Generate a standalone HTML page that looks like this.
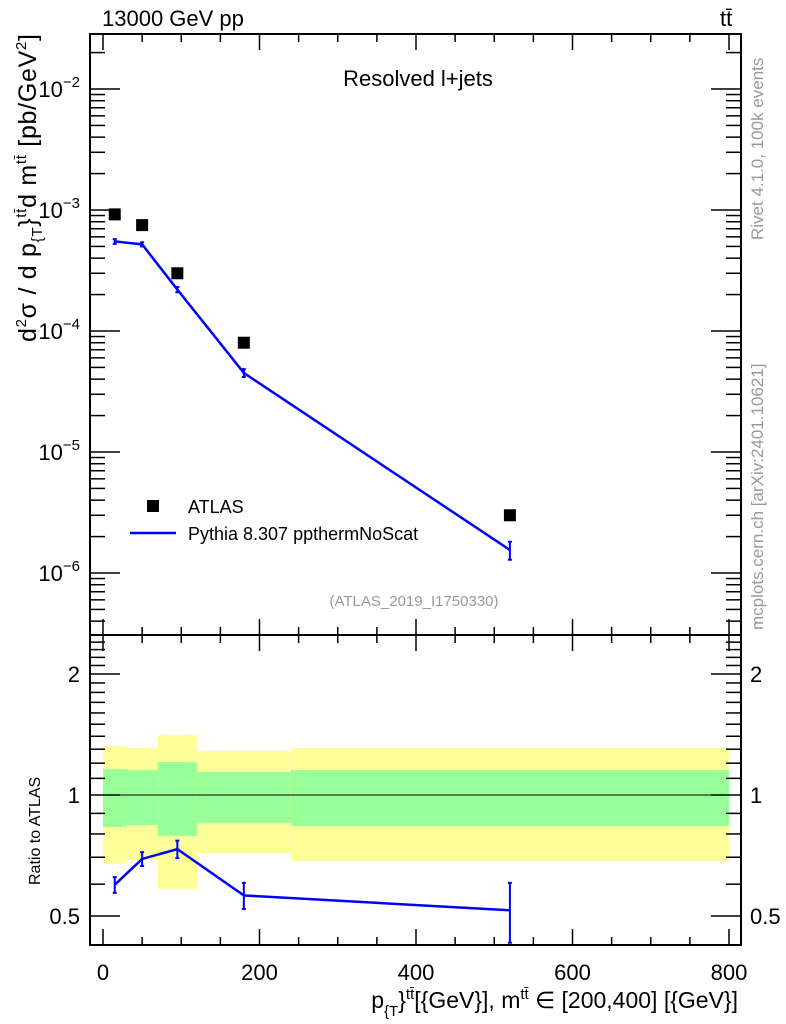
<!DOCTYPE html>
<html><head><meta charset="utf-8"><style>
body{margin:0;background:#fff;overflow:hidden;}
svg{display:block;font-family:"Liberation Sans",sans-serif;}
</style></head><body>
<svg id="c" width="786" height="1024" xmlns="http://www.w3.org/2000/svg"></svg>
<script>
const xCenters=[15,50,95,180,520];
const dataVals=[9.2e-4,7.5e-4,3.0e-4,8.0e-5,3.0e-6];
const mcVals=[5.5e-4,5.2e-4,2.2e-4,4.5e-5,1.55e-6];
const mcRelErr=[0.045,0.04,0.05,0.075,0.17];
const binEdges=[0,30,70,120,240,800];
const yellowLo=[0.674,0.689,0.584,0.717,0.685];
const yellowHi=[1.324,1.309,1.410,1.287,1.309];
const greenLo=[0.833,0.842,0.791,0.852,0.837];
const greenHi=[1.161,1.154,1.208,1.141,1.154];
const xTicks=[0,200,400,600,800];
const ratioTicks=[0.5,1,2];

const NS="http://www.w3.org/2000/svg";
const svg=document.getElementById('c');
const L=90,R=741,T=34,MB=635,RB=945;
const X=v=>103+v*(729-103)/800;
const Y=v=>210-121*(Math.log10(v)+3);
const RY=v=>795-121*Math.log2(v);
function el(t,a,p){const e=document.createElementNS(NS,t);for(const k in a)e.setAttribute(k,a[k]);(p||svg).appendChild(e);return e;}

for(let i=0;i<yellowLo.length;i++){
 const b=el('rect',{x:X(binEdges[i]),y:RY(yellowHi[i]),width:X(binEdges[i+1])-X(binEdges[i]),height:RY(yellowLo[i])-RY(yellowHi[i]),fill:'#ffff99'});
 
 
 const g=el('rect',{x:X(binEdges[i]),y:RY(greenHi[i]),width:X(binEdges[i+1])-X(binEdges[i]),height:RY(greenLo[i])-RY(greenHi[i]),fill:'#99ff99'});
 
 
}
el('line',{x1:X(0),x2:X(800),y1:RY(1),y2:RY(1),stroke:'#000','stroke-width':1});

el('rect',{x:L,y:T,width:R-L,height:MB-T,fill:'none',stroke:'#000','stroke-width':2});
el('rect',{x:L,y:MB,width:R-L,height:RB-MB,fill:'none',stroke:'#000','stroke-width':2});

for(let v=0;v<=800;v+=50){
 const big=v%200==0, len=big?16:8;
 [[T,1],[MB,1],[MB,-1],[RB,-1]].forEach(([y,d])=>el('line',{x1:X(v),x2:X(v),y1:y,y2:y+d*len,stroke:'#000','stroke-width':1.5}));
}
xTicks.forEach(v=>{const t=el('text',{x:X(v),y:980,'font-size':22,'text-anchor':'middle'});t.textContent=v;
 
 });

for(let e=-7;e<=-1;e++){for(let m=1;m<10;m++){const v=m*Math.pow(10,e);const y=Y(v);if(y<T||y>MB)continue;
 const len=m==1?30:15;
 el('line',{x1:L,x2:L+len,y1:y,y2:y,stroke:'#000','stroke-width':1.5});
 el('line',{x1:R,x2:R-len,y1:y,y2:y,stroke:'#000','stroke-width':1.5});}}
[-2,-3,-4,-5,-6].forEach(e=>{const t=el('text',{x:80,y:Y(Math.pow(10,e))+8,'font-size':22,'text-anchor':'end'});
 t.innerHTML='10<tspan dy="-10" font-size="15">−'+(-e)+'</tspan>';
 
 });

for(let m=0.1;m<2.45;m+=0.1){const v=Math.round(m*10)/10;const y=RY(v);if(y<MB||y>RB)continue;
 const big=(v===0.5||v===1||v===2);
 const len=big?30:15;
 el('line',{x1:L,x2:L+len,y1:y,y2:y,stroke:'#000','stroke-width':1.5});
 el('line',{x1:R,x2:R-len,y1:y,y2:y,stroke:'#000','stroke-width':1.5});}
ratioTicks.forEach(v=>{
 const t=el('text',{x:80,y:RY(v)+8,'font-size':22,'text-anchor':'end'});t.textContent=v==0.5?'0.5':v;
 
 
 const t2=el('text',{x:750,y:RY(v)+8,'font-size':22});t2.textContent=v==0.5?'0.5':v;
 
 });

el('polyline',{points:xCenters.map((x,i)=>X(x)+','+Y(mcVals[i])).join(' '),fill:'none',stroke:'#0000ff','stroke-width':2.5});
xCenters.forEach((x,i)=>{const v=mcVals[i],e=mcRelErr[i];const y1=Y(v*(1+e)),y2=Y(v*(1-e));
 const g=el('path',{d:`M${X(x)},${y1}V${y2}M${X(x)-2},${y1}h4M${X(x)-2},${y2}h4`,stroke:'#0000ff','stroke-width':2,fill:'none'});
 
 });
xCenters.forEach((x,i)=>{const r=el('rect',{x:X(x)-6,y:Y(dataVals[i])-6,width:12,height:12,fill:'#000'});
 
 });

const ratios=xCenters.map((x,i)=>mcVals[i]/dataVals[i]);
el('polyline',{points:xCenters.map((x,i)=>X(x)+','+RY(ratios[i])).join(' '),fill:'none',stroke:'#0000ff','stroke-width':2.5});
xCenters.forEach((x,i)=>{const r=ratios[i],e=mcRelErr[i];const y1=RY(r*(1+e)),y2=RY(r*(1-e));
 const g=el('path',{d:`M${X(x)},${y1}V${y2}M${X(x)-2},${y1}h4M${X(x)-2},${y2}h4`,stroke:'#0000ff','stroke-width':2,fill:'none'});
 
 });
</script>
<svg width="786" height="1024" style="position:absolute;left:0;top:0" xmlns="http://www.w3.org/2000/svg">
<g font-family="Liberation Sans, sans-serif">
<text x="102" y="26" font-size="22">13000 GeV pp</text>
<text x="720" y="26" font-size="22">tt̄</text>
<text x="418" y="86" font-size="22" text-anchor="middle">Resolved l+jets</text>
<text x="414" y="606" font-size="15" fill="#999" text-anchor="middle">(ATLAS_2019_I1750330)</text>
<rect x="147" y="500" width="12" height="12" fill="#000"/>
<text x="188" y="513" font-size="18">ATLAS</text>
<line x1="130" x2="176" y1="533" y2="533" stroke="#0000ff" stroke-width="2.5"/>
<text x="188" y="540" font-size="18">Pythia 8.307 ppthermNoScat</text>
<text transform="translate(763,240) rotate(-90)" font-size="17" fill="#999">Rivet 4.1.0,  100k events</text>
<text transform="translate(763,630) rotate(-90)" font-size="17" fill="#999">mcplots.cern.ch [arXiv:2401.10621]</text>
<text transform="translate(36,342) rotate(-90)" font-size="25" textLength="308">d<tspan dy="-10" font-size="15">2</tspan><tspan dy="10">σ /  d p</tspan><tspan dy="6" font-size="15">{T</tspan><tspan dy="-6">}</tspan><tspan dy="-10" font-size="15">tt̄</tspan><tspan dy="10">d m</tspan><tspan dy="-10" font-size="15">tt̄</tspan><tspan dy="10"> [pb/GeV</tspan><tspan dy="-10" font-size="15">2</tspan><tspan dy="10">]</tspan></text>
<text transform="translate(40,885) rotate(-90)" font-size="16">Ratio to ATLAS</text>
<text x="738" y="1008" font-size="23" text-anchor="end">p<tspan dy="8" font-size="15">{T</tspan><tspan dy="-8">}</tspan><tspan dy="-9" font-size="15">tt̄</tspan><tspan dy="9">[{GeV}], m</tspan><tspan dy="-9" font-size="15">tt̄</tspan><tspan dy="9"> ∈ [200,400] [{GeV}]</tspan></text>
</g></svg>
</body></html>
